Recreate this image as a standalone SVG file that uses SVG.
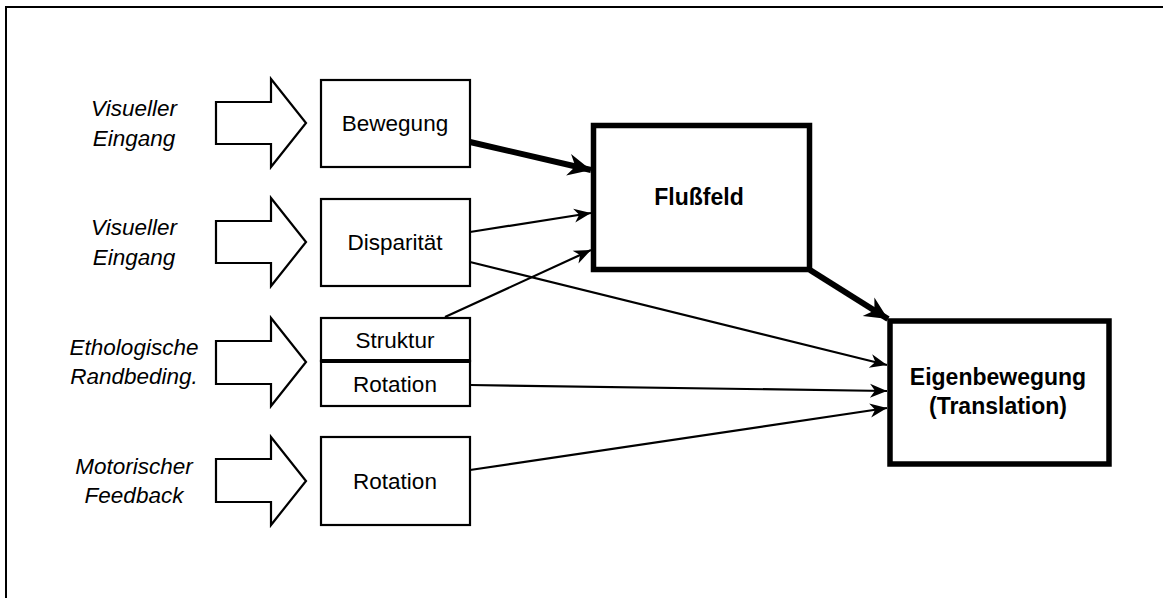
<svg xmlns="http://www.w3.org/2000/svg" width="1163" height="598" viewBox="0 0 1163 598">
<style>
.frame{fill:none;stroke:#000;stroke-width:2}
.box{fill:#fff;stroke:#000;stroke-width:2.2}
.bold{fill:#fff;stroke:#000;stroke-width:5.5}
.barrow{fill:#fff;stroke:#000;stroke-width:2.2;stroke-linejoin:miter}
.lbl{font-family:"Liberation Sans",Arial,sans-serif;font-size:22.5px;font-style:italic;text-anchor:middle;fill:#000}
.txt{font-family:"Liberation Sans",Arial,sans-serif;font-size:22.5px;text-anchor:middle;fill:#000}
.btxt{font-family:"Liberation Sans",Arial,sans-serif;font-size:23px;font-weight:bold;text-anchor:middle;fill:#000}
.thin{stroke:#000;stroke-width:2.2;fill:none;marker-end:url(#ah)}
.thick{stroke:#000;stroke-width:6;fill:none;marker-end:url(#ahb)}
</style>
<defs>
<marker id="ah" markerUnits="userSpaceOnUse" markerWidth="20" markerHeight="16" viewBox="-18 -8 20 16" refX="0" refY="0" orient="auto">
<path d="M0,0 L-17,-7 L-12,0 L-17,7 Z" fill="#000"/>
</marker>
<marker id="ahb" markerUnits="userSpaceOnUse" markerWidth="28" markerHeight="26" viewBox="-26 -13 28 26" refX="0" refY="0" orient="auto">
<path d="M0,0 L-23,-11 L-16,0 L-23,11 Z" fill="#000"/>
</marker>
</defs>
<rect width="1163" height="598" fill="#fff"/>
<path class="frame" d="M6,598 L6,7 L1163,7"/>

<g id="input1">
<polygon class="barrow" points="216,102 271,102 271,79 306,123 271,167 271,144 216,144"/>
<text class="lbl" x="134" y="116">Visueller</text>
<text class="lbl" x="134" y="146">Eingang</text>
</g>
<g id="input2">
<polygon class="barrow" points="216,221 271,221 271,198 306,242 271,286 271,263 216,263"/>
<text class="lbl" x="134" y="235">Visueller</text>
<text class="lbl" x="134" y="265">Eingang</text>
</g>
<g id="input3">
<polygon class="barrow" points="216,341 271,341 271,318 306,362 271,406 271,384 216,384"/>
<text class="lbl" x="134" y="355">Ethologische</text>
<text class="lbl" x="134" y="384">Randbeding.</text>
</g>
<g id="input4">
<polygon class="barrow" points="216,459 271,459 271,437 306,481 271,525 271,502 216,502"/>
<text class="lbl" x="134" y="474">Motorischer</text>
<text class="lbl" x="134" y="503">Feedback</text>
</g>

<g id="bewegung">
<rect class="box" x="321" y="80" width="149" height="87"/>
<text class="txt" x="395" y="131">Bewegung</text>
</g>
<g id="disparitaet">
<rect class="box" x="321" y="199" width="149" height="87"/>
<text class="txt" x="395" y="250">Disparität</text>
</g>
<g id="struktur">
<rect class="box" x="321" y="318" width="149" height="43"/>
<text class="txt" x="395" y="348">Struktur</text>
</g>
<g id="rotation1">
<rect class="box" x="321" y="361" width="149" height="45"/>
<line x1="321" y1="361" x2="470" y2="361" stroke="#000" stroke-width="4"/>
<text class="txt" x="395" y="392">Rotation</text>
</g>
<g id="rotation2">
<rect class="box" x="321" y="437" width="149" height="88"/>
<text class="txt" x="395" y="489">Rotation</text>
</g>
<g id="flussfeld">
<rect class="bold" x="593.5" y="125.5" width="216" height="144"/>
<text class="btxt" x="699" y="205">Flußfeld</text>
</g>
<g id="eigenbewegung">
<rect class="bold" x="890" y="321" width="219" height="143"/>
<text class="btxt" x="998" y="385">Eigenbewegung</text>
<text class="btxt" x="998" y="414">(Translation)</text>
</g>

<g id="connectors">
<line class="thick" x1="470" y1="142" x2="591" y2="170"/>
<line class="thin" x1="470" y1="232" x2="591" y2="213"/>
<line class="thin" x1="445" y1="317" x2="591" y2="250"/>
<line class="thin" x1="470" y1="262" x2="887" y2="365"/>
<line class="thin" x1="470" y1="385" x2="887" y2="391"/>
<line class="thin" x1="470" y1="470" x2="887" y2="408"/>
<line class="thick" x1="810" y1="270" x2="888" y2="319"/>
</g>
</svg>
